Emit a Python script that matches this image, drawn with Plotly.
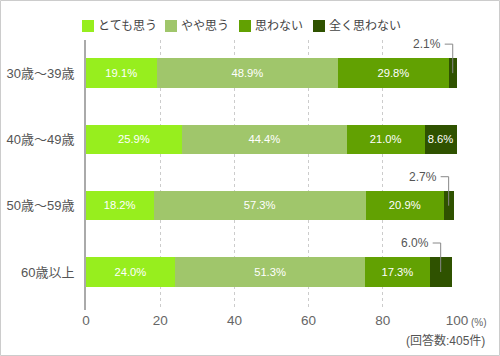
import plotly.graph_objects as go

categories = ["30歳〜39歳", "40歳〜49歳", "50歳〜59歳", "60歳以上"]
series_names = ["とても思う", "やや思う", "思わない", "全く思わない"]
v_totemo = [19.1, 25.9, 18.2, 24.0]
v_yaya = [48.9, 44.4, 57.3, 51.3]
v_omowanai = [29.8, 21.0, 20.9, 17.3]
v_mattaku = [2.1, 8.6, 2.7, 6.0]
colors = ["#97EE1E", "#A0C66B", "#62A102", "#2F5200"]
x_ticks = [0, 20, 40, 60, 80, 100]
note_text = "(回答数:405件)"
unit_text = "(%)"
small_threshold = 7.0

FONT = "Arial, Liberation Sans, Noto Sans CJK JP, sans-serif"
series_values = [v_totemo, v_yaya, v_omowanai, v_mattaku]

L, R, T, B = 86, 43, 40, 46
pw = 500 - L - R
ph = 356 - T - B

fig = go.Figure()
for name, vals, col in zip(series_names, series_values, colors):
    texts = [f"{v:.1f}%" if v >= small_threshold else "" for v in vals]
    fig.add_trace(go.Bar(
        y=categories, x=vals, name=name, orientation="h",
        marker=dict(color=col, line=dict(width=0)),
        text=texts, textposition="inside", insidetextanchor="middle",
        textfont=dict(color="white", size=12, family=FONT),
        width=0.445, hoverinfo="skip", showlegend=False,
    ))

shapes = []
annotations = []
for i, cat in enumerate(categories):
    cum = 0.0
    for vals in series_values:
        v = vals[i]
        center = cum + v / 2
        cum += v
        if v < small_threshold:
            annotations.append(dict(
                x=center, y=cat, xref="x", yref="y", text=f"{v:.1f}%",
                showarrow=False, xanchor="right", yanchor="middle",
                xshift=-10, yshift=29,
                font=dict(size=12, color="#555", family=FONT),
            ))
            shapes.append(dict(
                type="path", xref="x", yref="y",
                xsizemode="pixel", ysizemode="pixel",
                xanchor=center, yanchor=cat,
                path="M0,0 L0,29 L-8,29",
                line=dict(color="#888", width=1),
            ))

# manual legend (compact spacing like the reference)
legend_px = [82, 165, 239, 313]
for name, col, px in zip(series_names, colors, legend_px):
    shapes.append(dict(
        type="rect", xref="paper", yref="paper",
        x0=(px - L) / pw, x1=(px + 12 - L) / pw,
        y0=1 + (T - 32) / ph, y1=1 + (T - 20) / ph,
        fillcolor=col, line=dict(width=0),
    ))
    annotations.append(dict(
        x=(px + 14 - L) / pw, y=1 + (T - 26) / ph, xref="paper", yref="paper",
        text=name, showarrow=False, xanchor="left", yanchor="middle",
        font=dict(size=12, color="#444", family=FONT),
    ))

shapes.append(dict(
    type="rect", xref="paper", yref="paper",
    x0=-(L - 0.5) / pw, x1=1 + (R - 0.5) / pw,
    y0=-(B - 0.5) / ph, y1=1 + (T - 0.5) / ph,
    line=dict(color="#cccccc", width=1), fillcolor="rgba(0,0,0,0)", layer="below",
))

annotations.append(dict(
    x=1, y=0, xref="paper", yref="paper", text=unit_text, showarrow=False,
    xanchor="left", yanchor="top", xshift=12, yshift=-5,
    font=dict(size=10, color="#666", family=FONT),
))
annotations.append(dict(
    x=1, y=0, xref="paper", yref="paper", text=note_text, showarrow=False,
    xanchor="right", yanchor="top", xshift=30, yshift=-21,
    font=dict(size=12, color="#555", family=FONT),
))

fig.update_layout(
    barmode="stack",
    width=500, height=356,
    margin=dict(l=L, r=R, t=T, b=B, autoexpand=False),
    paper_bgcolor="white", plot_bgcolor="white",
    font=dict(family=FONT, color="#555"),
    showlegend=False,
    xaxis=dict(
        range=[0, 100], tickvals=x_ticks, showgrid=True,
        gridcolor="#cccccc", griddash="dot", gridwidth=1,
        zeroline=False, showline=False, ticks="",
        tickfont=dict(size=13.5, color="#666", family=FONT),
        fixedrange=True, automargin=False,
    ),
    yaxis=dict(
        categoryorder="array", categoryarray=categories,
        autorange="reversed", showgrid=False, zeroline=False,
        showline=True, linecolor="#aaaaaa", linewidth=2,
        ticks="", ticklabelstandoff=7,
        tickfont=dict(size=13, color="#555", family=FONT),
        fixedrange=True, automargin=False,
    ),
    shapes=shapes, annotations=annotations,
    uniformtext=dict(mode="show", minsize=8),
)

fig.write_html(
    "out.html",
    config={"displayModeBar": False},
    post_script="document.body.style.margin='0';document.body.style.overflow='hidden';",
)
